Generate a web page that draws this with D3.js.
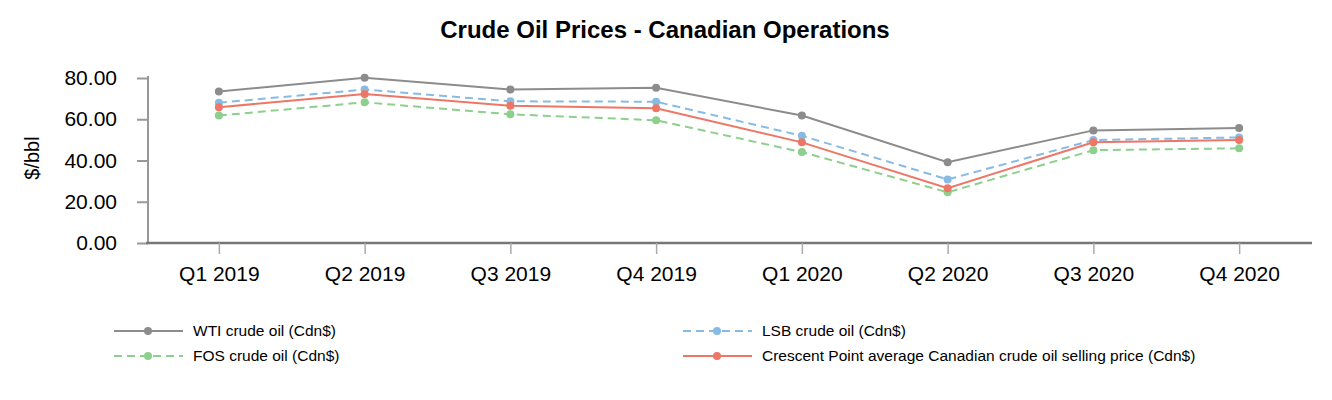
<!DOCTYPE html>
<html>
<head>
<meta charset="utf-8">
<script src="https://cdn.jsdelivr.net/npm/d3@7"></script>
<style>
  body { margin: 0; background: #fff; }
  text { font-family: "Liberation Sans", Arial, sans-serif; }
</style>
</head>
<body>
<div id="viz"></div>
<script>
const quarters = ["Q1 2019", "Q2 2019", "Q3 2019", "Q4 2019", "Q1 2020", "Q2 2020", "Q3 2020", "Q4 2020"];
const wti = [73.4, 80.1, 74.4, 75.3, 61.8, 39.2, 54.6, 55.8];
const lsb = [68.0, 74.4, 68.7, 68.5, 52.0, 30.8, 49.9, 51.2];
const fos = [61.8, 68.2, 62.4, 59.5, 44.1, 24.6, 45.0, 45.9];
const crescent = [65.8, 72.3, 66.5, 65.3, 48.8, 26.6, 48.8, 49.9];
const yTicks = [0, 20, 40, 60, 80];

const seriesNames = [
  "WTI crude oil (Cdn$)",
  "LSB crude oil (Cdn$)",
  "FOS crude oil (Cdn$)",
  "Crescent Point average Canadian crude oil selling price (Cdn$)"
];

const series = [
  { name: seriesNames[0], values: wti, color: "#8c8c8c", dash: null },
  { name: seriesNames[1], values: lsb, color: "#88bbe4", dash: "8,5" },
  { name: seriesNames[2], values: fos, color: "#8dcf8d", dash: "8,5" },
  { name: seriesNames[3], values: crescent, color: "#ee7666", dash: null }
];

const width = 1332;
const height = 400;

const svg = d3.select("#viz").append("svg")
  .attr("width", width)
  .attr("height", height);

svg.append("text")
  .attr("x", 665)
  .attr("y", 38)
  .attr("text-anchor", "middle")
  .style("font-size", "24px")
  .style("font-weight", "bold")
  .text("Crude Oil Prices - Canadian Operations");

const x = d3.scalePoint()
  .domain(quarters)
  .range([146, 1312])
  .padding(0.5);

const y = d3.scaleLinear()
  .domain([0, 80])
  .range([243, 78]);

// y axis
const yAxis = svg.append("g")
  .attr("transform", "translate(148,0)")
  .call(d3.axisLeft(y).tickValues(yTicks).tickFormat(d3.format(".2f")).tickSize(11).tickPadding(20));
yAxis.select(".domain").attr("stroke", "#999").attr("stroke-width", 2).attr("d", "M0,76V243");
yAxis.selectAll(".tick line").attr("stroke", "#999").attr("stroke-width", 2);
yAxis.selectAll(".tick text").style("font-size", "21px").attr("fill", "#000");

svg.append("text")
  .attr("transform", "translate(39,158) rotate(-90)")
  .attr("text-anchor", "middle")
  .style("font-size", "20px")
  .text("$/bbl");

// x axis
const xAxis = svg.append("g")
  .attr("transform", "translate(0,243)")
  .call(d3.axisBottom(x).tickSize(11).tickPadding(12));
xAxis.select(".domain").attr("stroke", "#777").attr("stroke-width", 2.5).attr("d", "M146,0H1312");
xAxis.selectAll(".tick line").attr("stroke", "#aaa").attr("stroke-width", 1.5);
xAxis.selectAll(".tick text").style("font-size", "21px").attr("fill", "#000");

const line = d3.line()
  .x((d, i) => x(quarters[i]))
  .y(d => y(d));

const groups = svg.selectAll(".series")
  .data(series)
  .enter()
  .append("g")
  .attr("class", "series");

groups.append("path")
  .attr("d", d => line(d.values))
  .attr("fill", "none")
  .attr("stroke", d => d.color)
  .attr("stroke-width", 2)
  .attr("stroke-dasharray", d => d.dash);

groups.selectAll("circle")
  .data(d => d.values.map(v => ({ v: v, color: d.color })))
  .enter()
  .append("circle")
  .attr("cx", (d, i) => x(quarters[i]))
  .attr("cy", d => y(d.v))
  .attr("r", 4)
  .attr("fill", d => d.color);

// legend: WTI / FOS left, LSB / Crescent right
const legendPos = [
  { col: 0, row: 0 },
  { col: 1, row: 0 },
  { col: 0, row: 1 },
  { col: 1, row: 1 }
];

const legend = svg.selectAll(".legend")
  .data(series)
  .enter()
  .append("g")
  .attr("class", "legend")
  .attr("transform", (d, i) => `translate(${114 + legendPos[i].col * 569},${331 + legendPos[i].row * 25})`);

legend.append("line")
  .attr("x1", 0)
  .attr("x2", 69)
  .attr("stroke", d => d.color)
  .attr("stroke-width", 2)
  .attr("stroke-dasharray", d => d.dash);

legend.append("circle")
  .attr("cx", 34)
  .attr("r", 4)
  .attr("fill", d => d.color);

legend.append("text")
  .attr("x", 79)
  .attr("dy", "0.35em")
  .style("font-size", "15.5px")
  .text(d => d.name);
</script>
</body>
</html>
